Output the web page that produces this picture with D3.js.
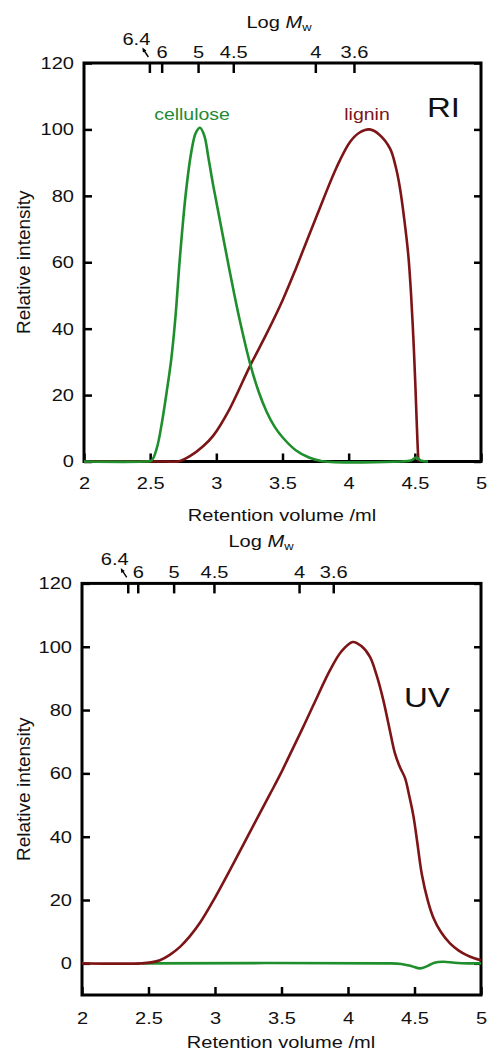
<!DOCTYPE html>
<html>
<head>
<meta charset="utf-8">
<script src="https://cdn.jsdelivr.net/npm/d3@7"></script>
<style>
  body { margin: 0; background: #fff; }
  svg { display: block; font-family: "Liberation Sans", Arial, sans-serif; }
</style>
</head>
<body>
<svg id="chart" width="487" height="1059"></svg>
<script>
// ---- data ----
const xTicks = [2, 2.5, 3, 3.5, 4, 4.5, 5];
const yTicks = [0, 20, 40, 60, 80, 100, 120];
const mwLabels = ["6.4", "6", "5", "4.5", "4", "3.6"];
// retention volume at which each Log Mw calibration tick sits
const riMwPos = [2.494, 2.587, 2.862, 3.128, 3.748, 4.04];
const uvMwPos = [2.344, 2.419, 2.689, 2.992, 3.632, 3.889];

// RI detector
const riCelluloseVol = [2.0, 2.45, 2.51, 2.55, 2.59, 2.625, 2.66, 2.69, 2.726, 2.77, 2.81, 2.845, 2.877, 2.91, 2.94, 2.977, 3.03, 3.078, 3.13, 3.18, 3.255, 3.32, 3.38, 3.44, 3.5, 3.6, 3.7, 3.8, 4.4, 4.47, 4.51, 4.55, 4.6];
const riCelluloseInt = [0, 0, 0.3, 4, 12, 21, 31, 43, 62, 81, 93, 99, 100.5, 98, 91.5, 83, 72, 62, 51.5, 42, 29.5, 21, 15, 10.5, 7.3, 3.4, 1.2, 0.1, 0, 0.3, 1.2, 0.2, 0];
const riLigninVol = [2.0, 2.6, 2.72, 2.8, 2.9, 2.977, 3.1, 3.255, 3.38, 3.5, 3.6, 3.759, 3.91, 4.01, 4.08, 4.157, 4.23, 4.313, 4.36, 4.389, 4.42, 4.451, 4.472, 4.489, 4.503, 4.514, 4.522, 4.527];
const riLigninInt = [0, 0, 0.1, 1.6, 4.6, 7.8, 15.8, 28.8, 38.5, 48.5, 58, 74, 88.7, 96.2, 99, 100, 98.5, 94.2, 88, 82, 73, 62, 50, 37, 24, 12, 4, 0];

// UV detector
const uvCelluloseVol = [2.45, 4.29, 4.4, 4.48, 4.541, 4.6, 4.65, 4.717, 4.8, 4.9, 5.0];
const uvCelluloseInt = [0, 0, -0.2, -0.9, -1.6, -0.8, 0.2, 0.5, 0.2, 0, 0];
const uvLigninVol = [2.0, 2.45, 2.52, 2.586, 2.66, 2.737, 2.81, 2.887, 2.987, 3.138, 3.288, 3.414, 3.489, 3.564, 3.65, 3.739, 3.865, 3.95, 4.035, 4.1, 4.165, 4.215, 4.265, 4.31, 4.353, 4.39, 4.429, 4.46, 4.492, 4.52, 4.554, 4.6, 4.641, 4.7, 4.767, 4.83, 4.892, 4.95, 5.0];
const uvLigninInt = [0, 0, 0.3, 1, 2.7, 5.2, 8.5, 12.8, 19.8, 31.5, 43.5, 53.5, 59.5, 66, 73.5, 81.5, 92.6, 98.5, 101.5, 100.2, 96.8, 91, 83.2, 74.5, 66.3, 62, 58.5, 53, 46.5, 38.5, 28.4, 19.8, 14.5, 9.8, 6.3, 4.1, 2.6, 1.6, 1];

const green = "#1f8e2c";
const red = "#7d1416";
const SX = 1.18; // the reference's lettering is a bit wide

const svg = d3.select("#chart");

function label(g, x, y, str, size, anchor = "start", fill = "#111") {
  return g.append("text")
    .attr("transform", `translate(${x},${y}) scale(${SX},1)`)
    .attr("text-anchor", anchor)
    .attr("font-size", size)
    .attr("fill", fill)
    .text(str);
}

function drawPanel(p) {
  const g = svg.append("g");
  const x = d3.scaleLinear().domain([2, 5]).range([p.x0, p.x1]);
  const y = d3.scaleLinear().domain([p.yMin, 120]).range([p.yBot, p.yTop]);

  const styleAxis = (a) => {
    a.select(".domain").remove();
    a.selectAll(".tick line").attr("stroke", "#000").attr("stroke-width", 2.5);
    a.selectAll(".tick text")
      .attr("font-size", 17)
      .attr("fill", "#111")
      .attr("font-family", "Liberation Sans, Arial, sans-serif")
      .attr("transform", `scale(${SX},1)`);
  };

  g.append("g").attr("transform", `translate(${p.x0},0)`)
    .call(d3.axisLeft(y).tickValues(yTicks).tickSizeInner(-8).tickSizeOuter(0).tickPadding(8.5))
    .call(styleAxis);
  g.append("g").attr("transform", `translate(${p.x1},0)`)
    .call(d3.axisRight(y).tickValues(yTicks).tickSizeInner(-7).tickSizeOuter(0).tickFormat(""))
    .call(styleAxis);
  g.append("g").attr("transform", `translate(0,${p.yBot})`)
    .call(d3.axisBottom(x).tickValues(xTicks).tickSizeInner(-8).tickSizeOuter(0).tickPadding(p.xPad).tickFormat(d3.format("")))
    .call(styleAxis);
  g.append("g").attr("transform", `translate(0,${p.yTop})`)
    .call(d3.axisTop(x).tickValues(p.mwPos).tickSizeInner(-10).tickSizeOuter(0).tickPadding(5)
      .tickFormat((d, i) => i === 0 ? "" : mwLabels[i]))
    .call(styleAxis);

  // 6.4 sits off to the side with a little arrow
  const t0 = x(p.mwPos[0]);
  label(g, t0 - 13, p.yTop - 18, mwLabels[0], 17, "middle");
  g.append("line")
    .attr("x1", t0 - 1).attr("y1", p.yTop - 6)
    .attr("x2", t0 - 5).attr("y2", p.yTop - 12)
    .attr("stroke", "#000").attr("stroke-width", 1.4);
  g.append("path")
    .attr("d", `M${t0 - 7},${p.yTop - 15.5} L${t0 - 3},${p.yTop - 12.5} L${t0 - 6.5},${p.yTop - 10.5} Z`)
    .attr("fill", "#000");

  // frame
  g.append("rect")
    .attr("x", p.x0).attr("y", p.yTop)
    .attr("width", p.x1 - p.x0).attr("height", p.yBot - p.yTop)
    .attr("fill", "none").attr("stroke", "#000").attr("stroke-width", 3);

  const line = d3.line().x(d => x(d[0])).y(d => y(d[1])).curve(d3.curveCatmullRom.alpha(0.5));
  p.series.forEach(s => {
    g.append("path")
      .datum(d3.zip(s.vol, s.val))
      .attr("d", line)
      .attr("fill", "none")
      .attr("stroke", s.color)
      .attr("stroke-width", 2.6)
      .attr("stroke-linejoin", "round");
  });

  // titles
  const mt = g.append("text")
    .attr("transform", `translate(${p.mwX},${p.mwY}) scale(${SX},1)`)
    .attr("text-anchor", "middle").attr("font-size", 17).attr("fill", "#111");
  mt.append("tspan").text("Log ");
  mt.append("tspan").attr("font-style", "italic").text("M");
  mt.append("tspan").attr("font-size", 11).attr("dy", 3).text("w");

  label(g, p.titleX, p.titleY, "Retention volume /ml", 17, "middle");

  g.append("text")
    .attr("transform", `translate(30,${(p.yTop + p.yBot) / 2}) rotate(-90)`)
    .attr("text-anchor", "middle").attr("font-size", 19).attr("fill", "#111")
    .text("Relative intensity");

  label(g, p.tagX, p.tagY, p.tag, 28);
  return { g, x, y };
}

const ri = drawPanel({
  x0: 84, x1: 481, yTop: 63, yBot: 461.5, yMin: 0, xPad: 15,
  mwPos: riMwPos, mwX: 279, mwY: 28, titleX: 282, titleY: 521,
  tag: "RI", tagX: 427, tagY: 116.5,
  series: [
    { vol: riLigninVol, val: riLigninInt, color: red },
    { vol: riCelluloseVol, val: riCelluloseInt, color: green }
  ]
});
label(ri.g, 192, 120, "cellulose", 16.5, "middle", "#238a34");
label(ri.g, 367, 120, "lignin", 16.5, "middle", "#7d1418");

drawPanel({
  x0: 82, x1: 481, yTop: 583.4, yBot: 995, yMin: -10, xPad: 17,
  mwPos: uvMwPos, mwX: 261, mwY: 547, titleX: 281, titleY: 1048,
  tag: "UV", tagX: 404, tagY: 707,
  series: [
    { vol: uvCelluloseVol, val: uvCelluloseInt, color: green },
    { vol: uvLigninVol, val: uvLigninInt, color: red }
  ]
});
</script>
</body>
</html>
